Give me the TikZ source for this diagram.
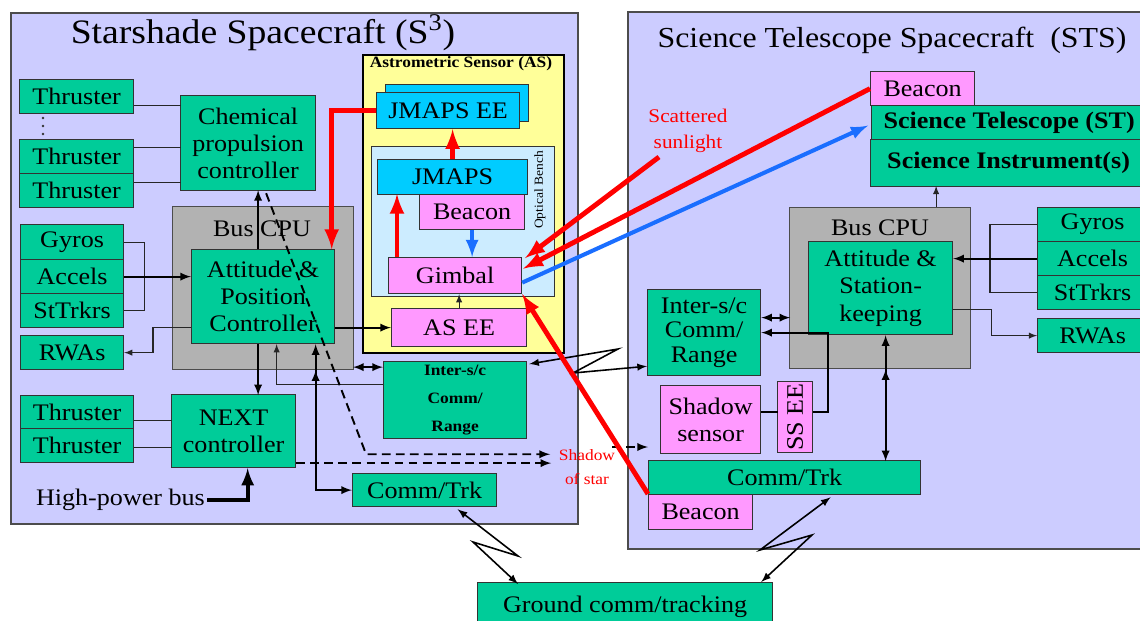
\documentclass[tikz,border=0pt]{standalone}
\usepackage{fontspec}
\setmainfont{Liberation Serif}[FakeStretch=1.1]
\usepackage{tikz}
\usetikzlibrary{positioning,arrows}
\newlength{\pxl}
\setlength{\pxl}{0.02cm}
\definecolor{panelc}{HTML}{CCCCFF}
\definecolor{grnc}{HTML}{00CC99}
\definecolor{pnkc}{HTML}{FF99FF}
\definecolor{cync}{HTML}{00CCFF}
\definecolor{ylwc}{HTML}{FFFF99}
\definecolor{gryc}{HTML}{B2B2B2}
\definecolor{benchc}{HTML}{CCECFF}
\definecolor{bordc}{HTML}{333333}
\definecolor{rayred}{HTML}{FF0000}
\definecolor{rayblue}{HTML}{1A6EFF}
\newcommand{\bodyfont}{\fontsize{13.5}{15.5}\selectfont}

\begin{document}
\begin{tikzpicture}[x=0.02cm, y=-0.02cm, >=latex,
  sz/.style 2 args={minimum width=#1*\pxl, minimum height=#2*\pxl},
  blk/.style={draw=bordc, line width=0.7pt, inner sep=0pt, anchor=north west, align=center, font=\bodyfont},
  grn/.style={blk, fill=grnc},
  pnk/.style={blk, fill=pnkc},
  cyn/.style={blk, fill=cync},
  panel/.style={draw=black!70, line width=0.9pt, fill=panelc, anchor=north west, inner sep=0pt},
  cpu/.style={draw=black!70, line width=0.7pt, fill=gryc, anchor=north west, inner sep=0pt},
  wire/.style={draw=black!85, line width=0.6pt},
  thinarr/.style={wire, ->},
  arr/.style={line width=1.1pt, ->},
  dbl/.style={line width=1.1pt, <->},
  dsh/.style={line width=1.1pt, dash pattern=on 5pt off 3pt, ->},
  zz/.style={line width=0.9pt, <->},
  redarr/.style={draw=rayred, line width=2.8pt, ->},
  bluearr/.style={draw=rayblue, line width=2.3pt, ->},
  hpw/.style={line width=2.3pt, ->}]
\clip (0,0) rectangle (1140,620);
\fill[white] (0,0) rectangle (1140,620);

% the two spacecraft
\node[panel, sz={567}{511}] (ss) at (10,12) {};
\node[panel, sz={520}{537}] (sts) at (627,11) {};
\node[font=\fontsize{19.5}{22}\selectfont] (sstitle) at (263,33) {Starshade Spacecraft (S\textsuperscript{3})};
\node[font=\fontsize{16.5}{19}\selectfont] (ststitle) at (892,40) {Science Telescope Spacecraft\ \ (STS)};

% starshade side
\node[grn, sz={114}{34}] (thr1) at (19,79) {Thruster};
\foreach \dy in {118,126,134}
  \fill[black!80] (43,\dy) circle (1.4);
\node[grn, sz={114}{34}] (thr2) at (19,139) {Thruster};
\node[grn, sz={114}{34}] (thr3) at (19,173) {Thruster};
\node[grn, sz={135}{95}] (chem) at (180,95) {Chemical\\propulsion\\controller};
\node[cpu, sz={181}{163}] (bus1) at (172,206) {};
\node[font=\bodyfont] (bus1lbl) at (262,229) {Bus CPU};
\node[grn, sz={143}{94}] (apc) at (191,249) {Attitude \&\\Position\\Controller};
\node[grn, sz={103}{35}] (gyr1) at (20,224) {Gyros};
\node[grn, sz={103}{34}] (acc1) at (20,259) {Accels};
\node[grn, sz={103}{34}] (str1) at (20,293) {StTrkrs};
\node[grn, sz={103}{34}] (rwa1) at (20,335) {RWAs};
\node[grn, sz={113}{33}] (thr4) at (20,395) {Thruster};
\node[grn, sz={113}{34}] (thr5) at (20,428) {Thruster};
\node[grn, sz={124}{73}] (next) at (171,394) {NEXT\\controller};
\node[anchor=east, font=\bodyfont, inner sep=1pt] (hpb) at (207,500) {High-power bus};

% astrometric sensor
\node[blk, fill=ylwc, draw=black, line width=1.3pt, sz={201}{298}] (as) at (362,54) {};
\node[font=\bfseries\fontsize{9}{10}\selectfont] (aslbl) at (461,64) {Astrometric Sensor (AS)};
\node[cyn, sz={143}{37}] (jeeb) at (385,84) {};
\node[cyn, sz={143}{36}] (jee) at (376,92) {JMAPS EE};
\node[blk, fill=benchc, sz={183}{150}] (bench) at (371,146) {};
\node[rotate=90, font=\fontsize{7}{8}\selectfont] (benchlbl) at (540,190) {Optical Bench};
\node[cyn, sz={150}{35}] (jmaps) at (377,159) {JMAPS};
\node[pnk, sz={105}{35}] (bcn1) at (419,194) {Beacon};
\node[pnk, sz={133}{36}] (gimb) at (388,257) {Gimbal};
\node[pnk, sz={135}{38}] (asee) at (391,308) {AS EE};
\node[grn, sz={143}{77}, font=\bfseries\fontsize{9}{16}\selectfont] (isc1) at (383,361) {Inter-s/c\\Comm/\\Range};
\node[grn, sz={144}{33}] (ctrk1) at (352,473) {Comm/Trk};
\node[align=center, text=rayred, font=\fontsize{9}{14}\selectfont] (shd) at (587,467) {Shadow\\of star};

% telescope side
\node[pnk, sz={104}{34}] (bcn2) at (870,71) {Beacon};
\node[grn, sz={275}{34}, font=\bfseries\bodyfont] (st) at (871,105) {Science Telescope (ST)};
\node[grn, sz={276}{47}, font=\bfseries\bodyfont] (si) at (870,139) {Science Instrument(s)};
\node[cpu, sz={181}{161}] (bus2) at (789,207) {};
\node[font=\bodyfont] (bus2lbl) at (880,228) {Bus CPU};
\node[grn, sz={144}{93}] (ask) at (808,241) {Attitude \&\\Station-\\keeping};
\node[grn, sz={110}{34}] (gyr2) at (1037,207) {Gyros};
\node[grn, sz={110}{34}] (acc2) at (1037,241) {Accels};
\node[grn, sz={110}{34}] (str2) at (1037,275) {StTrkrs};
\node[grn, sz={110}{34}] (rwa2) at (1037,318) {RWAs};
\node[grn, sz={113}{86}, font=\fontsize{13.5}{14}\selectfont] (isc2) at (647,289) {Inter-s/c\\Comm/\\Range};
\node[pnk, sz={100}{68}] (shs) at (660,385) {Shadow\\sensor};
\node[pnk, sz={35}{71}] (ssee) at (777,381) {};
\node[rotate=90, font=\bodyfont] (sseelbl) at (ssee.center) {SS EE};
\node[grn, sz={272}{34}] (ctrk2) at (648,460) {Comm/Trk};
\node[pnk, sz={104}{35}] (bcn3) at (648,494) {Beacon};
\node[grn, sz={295}{48}] (gnd) at (477,582) {Ground comm/tracking};
\node[text=rayred, align=center, font=\fontsize{11}{15}\selectfont] (sct) at (688,131) {Scattered\\sunlight};

% starshade wiring
\draw[wire] ([shift={(0,9)}]thr1.east) -- ++(47,0);
\draw[wire] ([shift={(0,-9)}]thr2.east) -- ++(47,0);
\draw[wire] ([shift={(0,-8)}]thr3.east) -- ++(47,0);
\draw[wire] (gyr1.east) -- ++(20,0) |- (str1.east);
\draw[arr] (acc1.east) -- (acc1.east -| apc.west);
\draw[thinarr] ([shift={(0,31)}]apc.west) -- ++(-38,0) |- (rwa1.east);
\draw[arr] ([shift={(-5,0)}]apc.north) -- ++(0,-59);
\draw[arr] ([shift={(-5,0)}]apc.south) -- ++(0,51);
\draw[wire] ([shift={(0,8)}]thr4.east) -- ++(38,0);
\draw[wire] ([shift={(0,2)}]thr5.east) -- ++(38,0);
\draw[hpw] (hpb.east) -| ([xshift=8pt]next.south);
\draw[arr] (apc.east |- asee.west) -- (asee.west);
\draw[dbl] ([shift={(0,-33)}]isc1.west) -- ++(-30,0);
\draw[thinarr] ([shift={(0,-16)}]isc1.west) -| ([xshift=7.7pt]apc.south);
\draw[dbl] (ctrk1.west) -| ([xshift=29.9pt]apc.south);
\draw[arr] ([shift={(52.5,20)}]bus1.south) -- ++(0,-20);
\draw[dsh] ([shift={(18,2)}]chem.south) -- ++(100,261) -- ++(184,0);
\draw[dsh] ([shift={(0,32)}]next.east) -- ++(255,0);
\coordinate (sd) at (612,447);
\draw[dsh] (sd) -- (sd -| ctrk2.west);

% inside the sensor
\draw[thinarr] (asee.north) -- (asee.north |- gimb.south);
\draw[redarr] ([shift={(9,0)}]gimb.north west) -- ++(0,-63);
\draw[redarr] (jmaps.north) -- (jmaps.north |- jee.south);
\draw[bluearr] (bcn1.south) -- (bcn1.south |- gimb.north);
\draw[redarr] (jee.west) -| ([xshift=-2pt]apc.north east);

% telescope wiring
\draw[thinarr] ([shift={(56,0)}]bus2.north) -- ++(0,-21);
\draw[wire] (gyr2.west) -- ++(-47,0) |- (str2.west);
\draw[arr] (acc2.west) -- (acc2.west -| ask.east);
\draw[thinarr] ([shift={(0,21)}]ask.east) -- ++(38,0) |- (rwa2.west);
\draw[dbl] ([shift={(0,-15)}]isc2.east) -- ++(29,0);
\draw[line width=1.1pt] ([shift={(0,-8)}]shs.east) -- ++(17,0);
\draw[arr] ([shift={(0,-5)}]ssee.east) -- ++(15,0) |- (isc2.east);
\draw[dbl] ([shift={(5,0)}]ask.south) -- ++(0,126);
\draw[arr] ([shift={(5.5,22)}]bus2.south) -- ++(0,-22);

% radio links
\coordinate (z1) at (618,349);
\coordinate (z2) at (573,373);
\draw[zz] ([shift={(2,3)}]isc1.north east) -- (z1) -- (z2) -- ([yshift=5.7pt]isc2.south west);
\coordinate (z3) at (518,556);
\coordinate (z4) at (473,542);
\draw[zz] ([shift={(33,2)}]ctrk1.south) -- (z3) -- (z4) -- ([shift={(41,2)}]gnd.north west);
\coordinate (z5) at (812,535);
\coordinate (z6) at (760,550);
\draw[zz] ([shift={(-12,0)}]gnd.north east) -- (z5) -- (z6) -- ([shift={(46,2)}]ctrk2.south);

% light
\coordinate (sc) at (659,157);
\draw[redarr] (sc) -- ([shift={(3,1)}]gimb.north east);
\draw[redarr] (bcn2.west) -- ([shift={(1,-7)}]gimb.east);
\draw[bluearr] ([shift={(0,7)}]gimb.east) -- ([shift={(-3,3)}]st.west);
\draw[redarr] (bcn3.north west) -- (gimb.south east);
\end{tikzpicture}
\end{document}
